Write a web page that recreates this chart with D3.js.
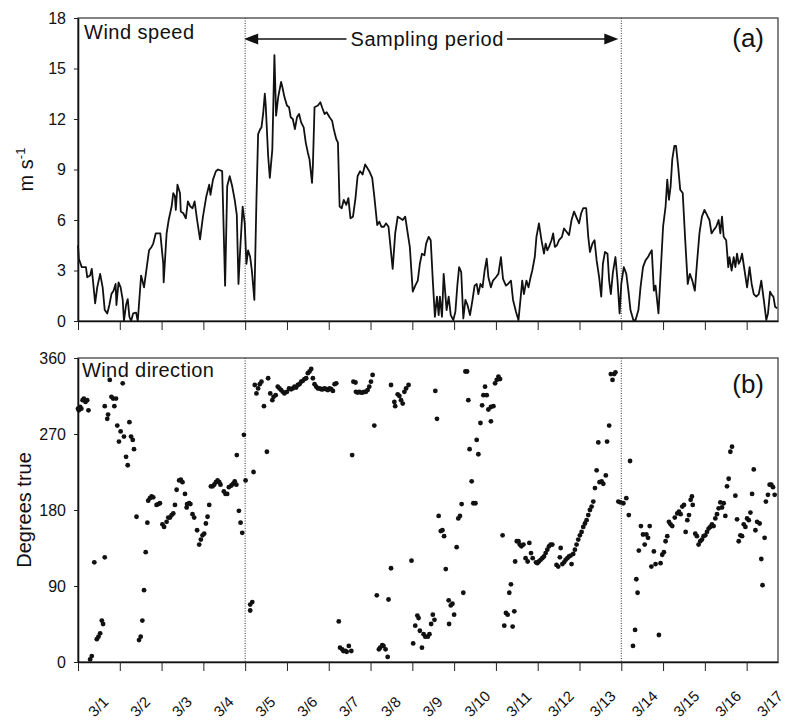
<!DOCTYPE html>
<html>
<head>
<meta charset="utf-8">
<script src="https://cdn.jsdelivr.net/npm/d3@7"></script>
<style>
	body { margin: 0; background: #fff; }
	text { font-family: "Liberation Sans", Arial, sans-serif; fill: #111; }
</style>
</head>
<body>
<div class="chart"></div>
<script>
var width = 793, height = 720;

// days of March (1 = 3/1 00:00)
var dayTicks = [1, 2, 3, 4, 5, 6, 7, 8, 9, 10, 11, 12, 13, 14, 15, 16, 17];
var dayLabels = ['3/1', '3/2', '3/3', '3/4', '3/5', '3/6', '3/7', '3/8', '3/9',
	'3/10', '3/11', '3/12', '3/13', '3/14', '3/15', '3/16', '3/17'];
var speedTicks = [0, 3, 6, 9, 12, 15, 18];
var directionTicks = [0, 90, 180, 270, 360];
var samplingPeriod = [5, 14];

// [day, m/s]
var speedData = [
	[1.00,4.5],[1.02,3.7],[1.09,3.2],[1.14,3.2],[1.19,3.2],[1.22,2.6],[1.29,2.7],[1.33,3.1],[1.39,1.6],[1.41,1.05],
	[1.46,2.0],[1.53,2.8],[1.59,2.0],[1.64,0.65],[1.70,0.45],[1.75,0.95],[1.80,1.6],[1.85,1.8],[1.90,2.2],[1.92,0.95],
	[1.97,2.3],[2.02,2.0],[2.07,1.25],[2.10,0],[2.15,0.95],[2.19,1.3],[2.23,0.25],[2.27,0],[2.32,0.45],[2.39,0.5],
	[2.43,0],[2.51,2.7],[2.58,2.0],[2.64,3.1],[2.70,4.2],[2.76,4.4],[2.80,4.6],[2.86,5.2],[2.92,5.2],[2.97,5.2],
	[3.04,3.4],[3.05,2.3],[3.12,5.2],[3.17,6.0],[3.24,6.8],[3.28,7.6],[3.32,7.4],[3.34,6.6],[3.38,8.1],[3.44,7.6],
	[3.46,6.5],[3.52,6.4],[3.58,6.1],[3.63,7.1],[3.69,6.8],[3.74,6.7],[3.79,7.1],[3.85,6.0],[3.92,4.85],[3.99,6.2],
	[4.07,7.4],[4.14,8.1],[4.17,7.5],[4.23,8.4],[4.30,8.9],[4.35,9.0],[4.45,8.9],[4.52,2.1],[4.57,8.0],[4.63,8.6],
	[4.69,8.0],[4.75,7.2],[4.80,6.3],[4.84,2.2],[4.88,4.2],[4.94,6.8],[4.99,5.8],[5.03,3.4],[5.07,4.2],[5.12,3.8],
	[5.16,3.0],[5.22,1.25],[5.27,7.2],[5.31,11.1],[5.36,11.4],[5.39,11.5],[5.43,12.3],[5.47,13.5],[5.49,12.9],[5.55,9.8],
	[5.59,8.5],[5.65,10.2],[5.70,15.8],[5.74,12.2],[5.79,13.3],[5.86,14.2],[5.89,13.9],[5.94,13.3],[6.00,12.8],[6.05,12.7],
	[6.09,12.1],[6.14,12.0],[6.19,11.4],[6.24,12.1],[6.29,12.3],[6.34,11.8],[6.40,11.5],[6.45,10.6],[6.50,10.0],[6.54,9.6],
	[6.60,8.2],[6.62,9.2],[6.66,12.7],[6.74,12.8],[6.80,13.0],[6.84,12.7],[6.90,12.3],[6.95,12.4],[7.02,12.1],[7.08,11.9],
	[7.12,11.4],[7.18,10.8],[7.22,10.6],[7.26,6.8],[7.31,6.7],[7.36,7.2],[7.42,6.9],[7.47,7.3],[7.52,6.1],[7.58,6.2],
	[7.64,7.3],[7.69,8.6],[7.75,8.9],[7.81,8.7],[7.87,9.3],[7.92,9.1],[7.97,8.9],[8.04,8.5],[8.09,7.4],[8.16,5.7],
	[8.21,5.9],[8.26,5.6],[8.32,5.6],[8.37,5.8],[8.43,5.6],[8.53,3.1],[8.59,5.2],[8.65,6.2],[8.71,6.1],[8.77,6.0],
	[8.83,6.2],[8.89,5.2],[8.94,4.4],[9.01,1.75],[9.07,2.1],[9.13,2.4],[9.18,3.4],[9.23,4.0],[9.29,3.9],[9.33,4.6],
	[9.39,5.0],[9.44,4.8],[9.49,2.4],[9.54,0.25],[9.59,1.45],[9.63,0.35],[9.66,1.45],[9.71,0.25],[9.75,2.8],[9.79,1.6],
	[9.82,0.65],[9.87,1.45],[9.92,0.35],[9.98,0.05],[10.03,0.55],[10.08,2.2],[10.12,3.2],[10.17,2.9],[10.22,0.15],[10.27,1.25],
	[10.32,0.95],[10.38,0.35],[10.44,1.25],[10.49,2.1],[10.54,2.2],[10.58,1.6],[10.63,2.2],[10.68,2.0],[10.73,3.0],[10.78,3.7],
	[10.82,2.6],[10.88,2.0],[10.93,2.4],[11.00,2.6],[11.06,2.8],[11.12,3.8],[11.17,2.5],[11.24,2.1],[11.29,2.2],[11.36,2.4],
	[11.41,1.25],[11.48,0.55],[11.54,0.05],[11.60,1.6],[11.63,2.4],[11.67,1.6],[11.73,2.4],[11.78,2.0],[11.83,2.6],[11.87,3.0],
	[11.93,3.8],[11.97,5.0],[12.03,5.8],[12.09,4.8],[12.15,4.0],[12.19,4.6],[12.23,4.2],[12.27,4.4],[12.33,4.8],[12.37,5.2],
	[12.41,4.4],[12.46,4.5],[12.51,4.8],[12.58,5.0],[12.63,5.5],[12.69,5.3],[12.75,5.1],[12.81,6.0],[12.87,6.5],[12.92,6.2],
	[12.99,5.8],[13.04,6.4],[13.09,6.7],[13.16,6.7],[13.21,5.0],[13.25,4.1],[13.31,4.6],[13.36,4.8],[13.41,3.6],[13.47,2.6],
	[13.52,1.45],[13.56,3.4],[13.61,4.1],[13.67,4.0],[13.71,2.4],[13.75,1.6],[13.80,2.9],[13.86,3.8],[13.91,2.4],[13.96,0.45],
	[14.00,2.2],[14.06,3.2],[14.12,2.8],[14.17,1.8],[14.22,0.65],[14.29,0.05],[14.34,0.05],[14.41,0.65],[14.46,2.0],[14.52,3.2],
	[14.58,3.6],[14.64,3.8],[14.68,4.0],[14.73,4.2],[14.78,1.8],[14.82,2.1],[14.89,0.45],[14.94,2.8],[15.00,5.6],[15.06,6.8],
	[15.10,8.4],[15.14,7.2],[15.18,8.0],[15.22,9.6],[15.27,10.4],[15.31,10.4],[15.36,9.2],[15.41,7.8],[15.47,7.6],[15.53,4.8],
	[15.59,2.2],[15.64,2.8],[15.70,2.4],[15.76,1.8],[15.81,3.4],[15.87,5.2],[15.93,6.2],[15.99,6.6],[16.05,6.3],[16.11,6.0],
	[16.16,5.2],[16.21,5.4],[16.27,5.6],[16.33,6.0],[16.37,5.2],[16.41,6.2],[16.45,5.0],[16.51,4.8],[16.56,3.2],[16.59,3.8],
	[16.64,3.0],[16.69,3.8],[16.73,3.2],[16.77,4.0],[16.81,3.4],[16.85,3.6],[16.89,4.0],[16.95,3.0],[17.01,2.0],[17.07,3.2],
	[17.12,2.2],[17.17,1.6],[17.23,1.45],[17.29,1.6],[17.35,2.4],[17.41,1.25],[17.47,0.05],[17.51,0.45],[17.56,1.75],[17.60,1.55],
	[17.64,1.45],[17.68,0.85],[17.73,0.75]
];

// [day, degrees true]
var directionData = [
	[1.00,300],[1.02,298],[1.05,302],[1.08,300],[1.11,310],[1.14,312],[1.18,308],[1.22,310],[1.25,298],[1.29,3],
	[1.33,7],[1.39,118],[1.45,27],[1.49,30],[1.53,34],[1.57,49],[1.60,45],[1.64,303],[1.64,124],[1.70,288],
	[1.72,293],[1.76,334],[1.80,314],[1.84,312],[1.87,303],[1.91,312],[1.94,280],[1.98,261],[2.02,273],[2.07,330],
	[2.10,267],[2.15,243],[2.19,233],[2.23,284],[2.27,267],[2.31,263],[2.34,252],[2.40,172],[2.46,26],[2.50,30],
	[2.54,49],[2.58,85],[2.62,130],[2.66,165],[2.68,191],[2.72,194],[2.76,196],[2.80,195],[2.88,186],[2.92,187],
	[2.96,188],[3.02,163],[3.06,160],[3.12,166],[3.16,171],[3.20,171],[3.24,174],[3.28,176],[3.32,186],[3.36,204],
	[3.42,215],[3.46,216],[3.50,213],[3.56,199],[3.60,183],[3.61,187],[3.66,188],[3.69,187],[3.74,175],[3.78,171],
	[3.85,156],[3.90,139],[3.94,145],[3.98,150],[4.02,152],[4.06,164],[4.10,172],[4.14,186],[4.18,208],[4.22,208],
	[4.26,210],[4.30,213],[4.34,215],[4.38,213],[4.41,210],[4.49,202],[4.53,199],[4.57,199],[4.61,207],[4.67,209],
	[4.71,211],[4.75,214],[4.79,210],[4.80,245],[4.85,179],[4.89,165],[4.93,153],[4.97,269],[5.01,215],[5.12,68],
	[5.12,61],[5.17,71],[5.20,225],[5.23,328],[5.27,318],[5.31,324],[5.35,329],[5.39,332],[5.45,303],[5.52,249],
	[5.55,336],[5.60,318],[5.65,310],[5.68,314],[5.73,316],[5.78,326],[5.82,324],[5.86,322],[5.90,320],[5.94,318],
	[6.00,320],[6.05,324],[6.10,323],[6.14,324],[6.18,326],[6.22,325],[6.26,328],[6.30,329],[6.34,332],[6.38,333],
	[6.42,335],[6.46,336],[6.50,342],[6.54,344],[6.58,347],[6.62,336],[6.66,329],[6.70,326],[6.74,324],[6.78,324],
	[6.82,323],[6.86,323],[6.90,324],[6.94,323],[6.98,322],[7.02,324],[7.06,323],[7.10,321],[7.14,329],[7.18,330],
	[7.24,48],[7.27,17],[7.32,15],[7.35,13],[7.40,13],[7.43,12],[7.48,19],[7.54,13],[7.56,245],[7.59,332],
	[7.64,331],[7.65,320],[7.69,319],[7.73,320],[7.77,319],[7.81,319],[7.85,320],[7.89,320],[7.93,322],[7.97,326],
	[8.01,332],[8.05,340],[8.09,280],[8.15,79],[8.20,15],[8.23,17],[8.28,20],[8.31,19],[8.36,15],[8.41,6],
	[8.43,74],[8.49,111],[8.49,328],[8.57,308],[8.59,303],[8.65,317],[8.69,315],[8.73,310],[8.77,306],[8.81,320],
	[8.85,324],[8.91,328],[8.98,120],[9.02,22],[9.07,43],[9.12,55],[9.15,52],[9.18,37],[9.23,17],[9.27,33],
	[9.31,30],[9.37,30],[9.41,33],[9.45,45],[9.49,56],[9.53,50],[9.55,321],[9.59,288],[9.63,173],[9.68,155],
	[9.72,156],[9.76,149],[9.80,110],[9.87,73],[9.88,45],[9.92,67],[9.96,69],[10.00,56],[10.06,136],[10.10,170],
	[10.14,173],[10.18,187],[10.22,82],[10.27,344],[10.31,344],[10.34,310],[10.37,252],[10.42,214],[10.46,188],[10.51,188],
	[10.54,263],[10.58,246],[10.63,283],[10.67,304],[10.70,316],[10.74,326],[10.78,316],[10.82,299],[10.88,285],[10.88,302],
	[10.94,303],[10.98,330],[11.02,334],[11.06,338],[11.10,335],[11.16,150],[11.20,43],[11.24,58],[11.28,56],[11.32,82],
	[11.36,92],[11.40,42],[11.44,60],[11.46,119],[11.50,143],[11.54,143],[11.57,139],[11.61,137],[11.66,139],[11.71,123],
	[11.76,119],[11.80,141],[11.84,129],[11.88,123],[11.96,118],[11.99,117],[12.03,119],[12.07,121],[12.11,123],[12.15,125],
	[12.19,129],[12.23,133],[12.27,137],[12.31,139],[12.35,139],[12.45,115],[12.49,113],[12.53,124],[12.55,135],[12.59,116],
	[12.63,118],[12.67,121],[12.71,123],[12.75,125],[12.79,126],[12.81,116],[12.85,128],[12.89,133],[12.93,139],[12.97,145],
	[13.01,150],[13.05,154],[13.09,160],[13.13,164],[13.17,168],[13.21,174],[13.25,180],[13.29,184],[13.33,190],[13.37,206],
	[13.41,227],[13.45,260],[13.48,213],[13.53,214],[13.57,211],[13.63,221],[13.66,261],[13.71,280],[13.75,341],[13.79,334],
	[13.83,341],[13.86,343],[13.93,190],[13.98,189],[14.05,188],[14.12,194],[14.18,174],[14.21,238],[14.28,19],[14.33,38],
	[14.36,98],[14.39,82],[14.42,132],[14.47,161],[14.52,151],[14.56,139],[14.60,151],[14.64,147],[14.68,161],[14.72,113],
	[14.78,131],[14.82,116],[14.90,32],[14.94,117],[14.98,127],[15.02,130],[15.06,143],[15.10,149],[15.14,166],[15.18,163],
	[15.22,161],[15.28,171],[15.34,176],[15.38,178],[15.42,175],[15.46,184],[15.50,186],[15.54,154],[15.58,168],[15.62,174],
	[15.66,192],[15.69,196],[15.71,186],[15.77,152],[15.81,149],[15.85,139],[15.89,143],[15.93,145],[15.97,149],[16.01,150],
	[16.05,154],[16.09,158],[16.13,160],[16.17,163],[16.21,161],[16.25,170],[16.29,175],[16.33,182],[16.37,189],[16.41,183],
	[16.45,188],[16.49,173],[16.53,208],[16.57,217],[16.61,249],[16.65,255],[16.73,197],[16.77,169],[16.81,143],[16.85,150],
	[16.89,149],[16.93,163],[16.97,160],[17.01,170],[17.05,168],[17.09,177],[17.13,199],[17.17,228],[17.21,156],[17.25,166],
	[17.31,164],[17.35,122],[17.38,91],[17.43,147],[17.46,190],[17.51,198],[17.55,210],[17.59,210],[17.63,207],[17.67,198]
];

var svg = d3.select('.chart')
	.append('svg')
	.attr('width', width)
	.attr('height', height);

var x = d3.scaleLinear().domain([1, 17.75]).range([78, 778]);
var ySpeed = d3.scaleLinear().domain([0, 18]).range([321, 18]);
var yDir = d3.scaleLinear().domain([0, 360]).range([662, 358]);

function panel(y, ticks) {
	var g = svg.append('g');
	var y0 = y.range()[0], y1 = y.range()[1];

	g.append('rect')
		.attr('x', x.range()[0])
		.attr('y', y1)
		.attr('width', x.range()[1] - x.range()[0])
		.attr('height', y0 - y1)
		.attr('fill', 'none')
		.attr('stroke', '#333')
		.attr('stroke-width', 1.2);

	g.selectAll('.period')
		.data(samplingPeriod)
		.enter().append('line')
		.attr('x1', function(d) { return x(d) })
		.attr('x2', function(d) { return x(d) })
		.attr('y1', y1)
		.attr('y2', y0)
		.attr('stroke', '#333')
		.attr('stroke-width', 1)
		.attr('stroke-dasharray', '1,1.5');

	var xAxis = g.append('g')
		.attr('transform', 'translate(0,' + y0 + ')')
		.call(d3.axisBottom(x).tickValues(dayTicks).tickSize(9).tickSizeOuter(0).tickFormat(''));
	xAxis.select('.domain').attr('stroke', '#111').attr('stroke-width', 1.6);
	xAxis.selectAll('.tick line').attr('stroke', '#222').attr('stroke-width', 1);

	var yAxis = g.append('g')
		.attr('transform', 'translate(' + x.range()[0] + ',0)')
		.call(d3.axisLeft(y).tickValues(ticks).tickSize(4).tickSizeOuter(0).tickPadding(8));
	yAxis.select('.domain').attr('stroke', '#111').attr('stroke-width', 1.6);
	yAxis.selectAll('.tick line').attr('stroke', '#222');
	yAxis.selectAll('.tick text')
		.style('font-family', '"Liberation Sans", Arial, sans-serif')
		.style('font-size', '16px')
		.attr('fill', '#111');
	return g;
}

var speedPanel = panel(ySpeed, speedTicks);
var directionPanel = panel(yDir, directionTicks);

// wind speed line
var line = d3.line()
	.x(function(d) { return x(d[0]) })
	.y(function(d) { return ySpeed(d[1]) });

speedPanel.append('path')
	.datum(speedData)
	.attr('d', line)
	.attr('fill', 'none')
	.attr('stroke', '#111')
	.attr('stroke-width', 1.8)
	.attr('stroke-linejoin', 'round');

// wind direction dots
directionPanel.append('g')
	.selectAll('circle')
	.data(directionData)
	.enter().append('circle')
	.attr('cx', function(d) { return x(d[0]) })
	.attr('cy', function(d) { return yDir(d[1]) })
	.attr('r', 2.4)
	.attr('fill', '#111');

// date labels under the lower panel, rising to the right from the day centre
svg.append('g')
	.selectAll('text')
	.data(dayLabels)
	.enter().append('text')
	.attr('transform', function(d, i) {
		return 'translate(' + (x(dayTicks[i] + 0.5) - 8) + ',714) rotate(-45)';
	})
	.attr('text-anchor', 'start')
	.attr('dy', '0.35em')
	.style('font-size', '15px')
	.text(function(d) { return d });

// panel titles
svg.append('text').attr('x', 84).attr('y', 39)
	.style('font-size', '20px').style('letter-spacing', '0.5px')
	.text('Wind speed');
svg.append('text').attr('x', 82).attr('y', 377)
	.style('font-size', '20px').style('letter-spacing', '0.4px')
	.text('Wind direction');
svg.append('text').attr('x', 764).attr('y', 47)
	.attr('text-anchor', 'end').style('font-size', '26px')
	.text('(a)');
svg.append('text').attr('x', 764).attr('y', 393)
	.attr('text-anchor', 'end').style('font-size', '26px')
	.text('(b)');

// axis titles
var speedTitle = svg.append('text')
	.attr('transform', 'translate(33,' + ((ySpeed.range()[0] + ySpeed.range()[1]) / 2) + ') rotate(-90)')
	.attr('text-anchor', 'middle')
	.style('font-size', '20px');
speedTitle.append('tspan').text('m s');
speedTitle.append('tspan').attr('dy', -8).style('font-size', '13px').text('-1');

svg.append('text')
	.attr('transform', 'translate(31,' + ((yDir.range()[0] + yDir.range()[1]) / 2) + ') rotate(-90)')
	.attr('text-anchor', 'middle')
	.style('font-size', '20px')
	.text('Degrees true');

// sampling period arrow
var arrowY = 39;
var arrowLeft = x(samplingPeriod[0]) - 1, arrowRight = x(samplingPeriod[1]) - 3;
var cx = (arrowLeft + arrowRight) / 2 - 4;
var label = svg.append('text')
	.attr('x', cx)
	.attr('y', arrowY + 7)
	.attr('text-anchor', 'middle')
	.style('font-size', '20px')
	.style('letter-spacing', '0.6px')
	.text('Sampling period');
var half = label.node().getComputedTextLength() / 2;

svg.append('line')
	.attr('x1', arrowLeft + 10).attr('x2', cx - half - 4)
	.attr('y1', arrowY).attr('y2', arrowY)
	.attr('stroke', '#111').attr('stroke-width', 1.4);
svg.append('line')
	.attr('x1', cx + half + 3).attr('x2', arrowRight - 10)
	.attr('y1', arrowY).attr('y2', arrowY)
	.attr('stroke', '#111').attr('stroke-width', 1.4);
svg.append('path')
	.attr('d', 'M' + arrowLeft + ',' + arrowY + 'l14,-5.5v11z')
	.attr('fill', '#111');
svg.append('path')
	.attr('d', 'M' + arrowRight + ',' + arrowY + 'l-14,-5.5v11z')
	.attr('fill', '#111');
</script>
</body>
</html>
